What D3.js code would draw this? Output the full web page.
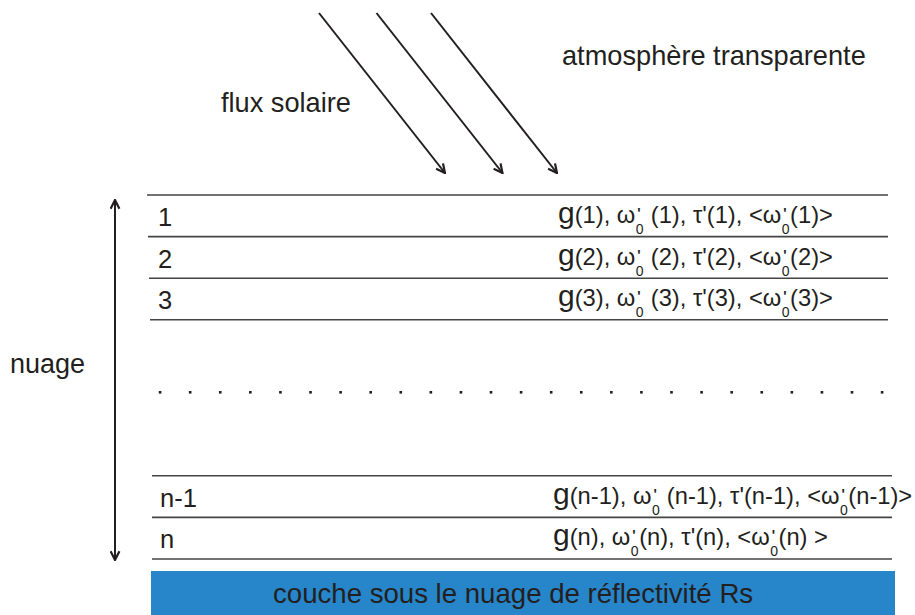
<!DOCTYPE html>
<html><head><meta charset="utf-8">
<script src="https://cdn.jsdelivr.net/npm/d3@7"></script>
<style>
html,body{margin:0;padding:0;background:#fff;}
svg{display:block;}
text{font-family:"Liberation Sans",Arial,Helvetica,sans-serif;fill:#231f20;}
</style></head>
<body>
<svg id="c" width="915" height="615"></svg>
<script>
// ---- data ----
const layerNames = ["1", "2", "3", "n-1", "n"];
const layerTop = [0, 1, 2, 6.75, 7.75];          // layer upper boundary (in layer units)
const boundaries = [0, 1, 2, 3, 6.75, 7.75, 8.75]; // horizontal separation lines
const paramTexts = [
  "g(1), ω§ (1), τ'(1), <ω§(1)>",
  "g(2), ω§ (2), τ'(2), <ω§(2)>",
  "g(3), ω§ (3), τ'(3), <ω§(3)>",
  "g(n-1), ω§ (n-1), τ'(n-1), <ω§(n-1)>",
  "g(n), ω§(n), τ'(n), <ω§(n) >"
];
const dotCount = 25;
const sunRays = [0, 1, 2];
const texts = {
  atmo: "atmosphère transparente",
  flux: "flux solaire",
  cloud: "nuage",
  ground: "couche sous le nuage de réflectivité Rs"
};

// ---- drawing ----
const svg = d3.select("#c");
const y = d3.scaleLinear().domain([0, 8.75]).range([195, 559]);
const ink = "#231f20";

const defs = svg.append("defs");
defs.append("marker").attr("id","head").attr("viewBox","0 0 10 10")
  .attr("refX",9).attr("refY",5).attr("markerWidth",11).attr("markerHeight",11)
  .attr("markerUnits","userSpaceOnUse").attr("orient","auto-start-reverse")
  .append("path").attr("d","M1,1 L9,5 L1,9").attr("fill","none")
  .attr("stroke",ink).attr("stroke-width",2);

// separator lines
svg.selectAll("line.sep").data(boundaries).join("line").attr("class","sep")
  .attr("x1",(d,i)=> i<4 ? 147 + i : 152)
  .attr("x2",(d,i)=> i<4 ? 888 : 892)
  .attr("y1",d=>y(d)).attr("y2",d=>y(d))
  .attr("stroke","#444").attr("stroke-width",1.6);

// layer labels
svg.selectAll("text.lay").data(layerNames).join("text").attr("class","lay")
  .attr("x",(d,i)=> i<3 ? 158 : 160)
  .attr("y",(d,i)=> y(layerTop[i]) + 31)
  .attr("font-size",25.5).text(d=>d);

// dotted row
const dx = d3.scaleLinear().domain([0, dotCount-1]).range([160, 882]);
svg.selectAll("rect.dot").data(d3.range(dotCount)).join("rect").attr("class","dot")
  .attr("x",d=>dx(d)-1.2).attr("y",391).attr("width",2.6).attr("height",2.6).attr("fill",ink);

// parameter rich labels: measured piecewise, rendered as a single text element
const meas = svg.append("text").attr("visibility","hidden").attr("xml:space","preserve").style("white-space","pre");
function widthOf(s, size) { meas.attr("font-size", size).text(s); return meas.node().getComputedTextLength(); }
function richText(x0, yb, str) {
  const base = 23.7, small = 14;
  const pieces = [];
  let x = x0;
  Array.from(str).forEach((ch, idx) => {
    if (ch === "§") {
      pieces.push({t:"'", x:x + 2, y:yb - 5, s:small, w:"bold"});
      pieces.push({t:"0", x:x + 0.5, y:yb + 11, s:small});
      x += Math.max(widthOf("'", small), widthOf("0", small)) + 1;
      return;
    }
    const size = (idx === 0 && ch === "g") ? 30 : base;
    pieces.push({t:ch, x:x, y:yb, s:size});
    x += widthOf(ch, size);
  });
  svg.append("text").attr("xml:space","preserve").style("white-space","pre")
    .selectAll("tspan").data(pieces).join("tspan")
    .attr("x", d=>d.x).attr("y", d=>d.y).attr("font-size", d=>d.s)
    .attr("font-weight", d=>d.w || null).text(d=>d.t);
}
paramTexts.forEach((s, i) => {
  richText(i < 3 ? 558 : 553, y(layerTop[i]) + 28, s);
});
meas.remove();

// cloud vertical double arrow
svg.append("line").attr("x1",115).attr("x2",115).attr("y1",200).attr("y2",560)
  .attr("stroke",ink).attr("stroke-width",2)
  .attr("marker-start","url(#head)").attr("marker-end","url(#head)");
svg.append("text").attr("x",10).attr("y",373).attr("font-size",27).text(texts.cloud);

// sun rays
const rx = d3.scaleLinear().domain([0, 2]).range([319, 431]);
svg.selectAll("line.ray").data(sunRays).join("line").attr("class","ray")
  .attr("x1",d=>rx(d) + (d===1? 1.5 : 0)).attr("y1",13)
  .attr("x2",d=>rx(d) + (d===1? 1.5 : 0) + 126).attr("y2",173)
  .attr("stroke",ink).attr("stroke-width",2).attr("marker-end","url(#head)");

svg.append("text").attr("x",221).attr("y",112).attr("font-size",27.2).text(texts.flux);
svg.append("text").attr("x",562).attr("y",65).attr("font-size",27.2).text(texts.atmo);

// bottom reflective layer
svg.append("rect").attr("x",151).attr("y",571).attr("width",744).attr("height",44).attr("fill","#2785c9");
svg.append("text").attr("x",273).attr("y",603).attr("font-size",27.6).text(texts.ground);
</script>
</body></html>
